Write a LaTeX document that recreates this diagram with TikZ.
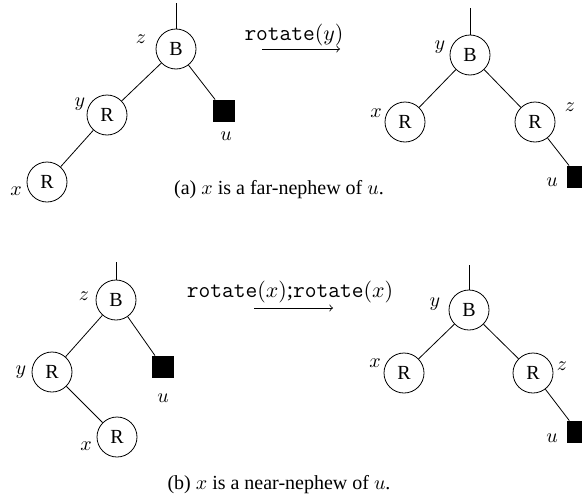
\documentclass[tikz,border=0pt]{standalone}
\usepackage{fontspec}
\setmainfont{Liberation Serif}
\begin{document}
\begin{tikzpicture}[x=0.5pt, y=-0.5pt,
		vertex/.style={circle, draw, minimum size=20pt, inner sep=0pt, font=\normalsize},
		leaf/.style={rectangle, fill=black, minimum size=11pt, inner sep=0pt},
		lbl/.style={inner sep=0pt, font=\normalsize},
		op/.style={inner sep=0pt, font=\fontsize{11.4}{13}\selectfont}]

	\useasboundingbox (0,0) rectangle (582,498);
	\clip (0,0) rectangle (582,498);

	% (a) lejano: antes de la rotacion
	\coordinate (aLt) at (176,3);
	\node[vertex] (aLz) at (176,49) {B};
	\node[vertex] (aLy) at (107,115) {R};
	\node[vertex] (aLx) at (47,182) {R};
	\node[leaf] (aLu) at (224,111) {};
	\node[lbl] (aLzl) at (141,39) {$z$};
	\node[lbl] (aLyl) at (80,104) {$y$};
	\node[lbl] (aLxl) at (16,191) {$x$};
	\node[lbl] (aLul) at (226,136) {$u$};
	\draw (aLt) -- (aLz);
	\draw (aLz) -- (aLy); \draw (aLz) -- (aLu); \draw (aLy) -- (aLx);

	% (a) flecha
	\coordinate (aAs) at (262,49);
	\coordinate (aAe) at (340,49);
	\node[op] (aAl) at (294,35) {\texttt{rotate}$(y)$};
	\draw[->] (aAs) -- (aAe);

	% (a) despues de la rotacion
	\coordinate (aRt) at (470,8);
	\node[vertex] (aRy) at (470,55) {B};
	\node[vertex] (aRx) at (405,122) {R};
	\node[vertex] (aRz) at (535,122) {R};
	\node[leaf] (aRu) at (578,177) {};
	\node[lbl] (aRyl) at (440,47) {$y$};
	\node[lbl] (aRxl) at (376,113) {$x$};
	\node[lbl] (aRzl) at (570,107) {$z$};
	\node[lbl] (aRul) at (552,182) {$u$};
	\draw (aRt) -- (aRy);
	\draw (aRy) -- (aRx); \draw (aRy) -- (aRz); \draw (aRz) -- (aRu);

	\node[lbl] (aCap) at (279,190) {(a) $x$ is a far-nephew of $u$.};

	% (b) cercano: antes de la rotacion
	\coordinate (bLt) at (116,262);
	\node[vertex] (bLz) at (116,300) {B};
	\node[vertex] (bLy) at (52,372) {R};
	\node[vertex] (bLx) at (117,437) {R};
	\node[leaf] (bLu) at (163,367) {};
	\node[lbl] (bLzl) at (84,296) {$z$};
	\node[lbl] (bLyl) at (21,372) {$y$};
	\node[lbl] (bLxl) at (86,446) {$x$};
	\node[lbl] (bLul) at (163,398) {$u$};
	\draw (bLt) -- (bLz);
	\draw (bLz) -- (bLy); \draw (bLz) -- (bLu); \draw (bLy) -- (bLx);

	% (b) flecha
	\coordinate (bAs) at (254,308);
	\coordinate (bAe) at (333,308);
	\node[op] (bAl) at (290,292) {\texttt{rotate}$(x)$;\texttt{rotate}$(x)$};
	\draw[->] (bAs) -- (bAe);

	% (b) despues de la rotacion
	\coordinate (bRt) at (469,265);
	\node[vertex] (bRy) at (469,310) {B};
	\node[vertex] (bRx) at (404,373) {R};
	\node[vertex] (bRz) at (533,373) {R};
	\node[leaf] (bRu) at (578,432) {};
	\node[lbl] (bRyl) at (435,304) {$y$};
	\node[lbl] (bRxl) at (375,363) {$x$};
	\node[lbl] (bRzl) at (562,366) {$z$};
	\node[lbl] (bRul) at (552,438) {$u$};
	\draw (bRt) -- (bRy);
	\draw (bRy) -- (bRx); \draw (bRy) -- (bRz); \draw (bRz) -- (bRu);

	\node[lbl] (bCap) at (279,485) {(b) $x$ is a near-nephew of $u$.};
\end{tikzpicture}
\end{document}
